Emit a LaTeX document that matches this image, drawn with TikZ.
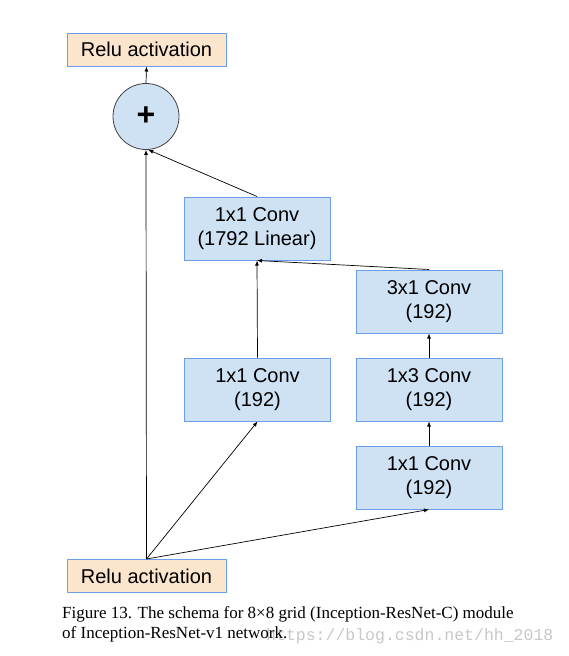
\documentclass[tikz,border=0pt]{standalone}
\usepackage{fontspec}
\setmainfont{Liberation Sans}
\newfontfamily\capfont{Liberation Serif}
\newfontfamily\markfont{Liberation Mono}
\usetikzlibrary{arrows.meta}
\definecolor{boxblue}{HTML}{CFE2F3}
\definecolor{edgeblue}{HTML}{6D9EEB}
\definecolor{reluorange}{HTML}{FCE5CD}
\tikzset{
  conv/.style={draw=edgeblue, line width=1pt, fill=boxblue, minimum width=146pt, minimum height=63pt, inner sep=0pt, align=center, font=\fontsize{20}{24}\selectfont},
  relu/.style={draw=edgeblue, line width=1pt, fill=reluorange, minimum width=159pt, minimum height=33pt, inner sep=0pt, font=\fontsize{20}{24}\selectfont},
  plusnode/.style={circle, draw=black!75, line width=0.8pt, fill=boxblue, minimum size=66pt, inner sep=0pt, font=\bfseries\fontsize{32}{32}\selectfont},
  arr/.style={-{Latex[length=5pt,width=4pt]}, line width=0.7pt}
}
\begin{document}
\begin{tikzpicture}[x=1pt, y=-1pt]
        \useasboundingbox (0,0) rectangle (569,656);

        \node[relu] (reluout) at (146.5,49.5) {Relu activation};
        \node[plusnode] (sum) at (146,116.5) {+};

        \node[conv] (linear) at (257,228.5) {1x1 Conv\\(1792 Linear)};
        \node[conv] (c3x1) at (429,301.5) {3x1 Conv\\(192)};
        \node[conv] (c1x1a) at (257.5,389.5) {1x1 Conv\\(192)};
        \node[conv] (c1x3) at (429,389.5) {1x3 Conv\\(192)};
        \node[conv] (c1x1b) at (429,477.5) {1x1 Conv\\(192)};

        \node[relu] (reluin) at (146.5,576) {Relu activation};

        \draw[arr] (reluin.north) -- (sum.south);
        \draw[arr] (reluin.north) -- (c1x1a.south);
        \draw[arr] (reluin.north) -- (c1x1b.south);

        \draw[arr] (c1x1a.north) -- (linear.south);
        \draw[arr] (c1x1b.north) -- (c1x3.south);
        \draw[arr] (c1x3.north) -- (c3x1.south);
        \draw[arr] (c3x1.north) -- (linear.south);

        \draw[arr] (linear.north) -- (sum.-86);
        \draw[arr] (sum.north) -- (reluout.south);

        \node[anchor=base west, inner sep=0pt, text=black!22, font=\markfont\fontsize{16.5}{20}\selectfont] (mark) at (266,640) {https://blog.csdn.net/hh\_2018};
        \node[anchor=base west, align=left, inner sep=0pt, font=\capfont\fontsize{17}{20}\selectfont] (caption) at (62,638) {Figure 13. The schema for 8×8 grid (Inception-ResNet-C) module\\of Inception-ResNet-v1 network.};
      \end{tikzpicture}
\end{document}
